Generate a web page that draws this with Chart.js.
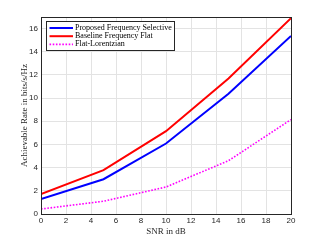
<!DOCTYPE html>
<html><head><meta charset="utf-8">
<script src="https://cdn.jsdelivr.net/npm/chart.js@4/dist/chart.umd.min.js"></script>
<style>html,body{margin:0;padding:0;background:#fff}#w{width:321px;height:241px}</style>
</head><body><div id="w"><canvas id="c"></canvas></div>
<script>
const snr = [0, 5, 10, 15, 20];
const proposed = [1.3, 3.0, 6.08, 10.37, 15.36];
const baseline = [1.73, 3.78, 7.15, 11.7, 16.9];
const lorentz = [0.43, 1.1, 2.33, 4.6, 8.15];
const seriesNames = ['Proposed Frequency Selective', 'Baseline Frequency Flat', 'Flat-Lorentzian'];

const toXY = v => snr.map((x, i) => ({x, y: v[i]}));

const boxLegend = {
  id: 'boxLegend',
  afterDraw(chart) {
    const {ctx, chartArea: a} = chart;
    ctx.save();
    ctx.strokeStyle = '#262626'; ctx.lineWidth = 1;
    ctx.strokeRect(Math.round(a.left) + 0.5, Math.round(a.top) + 0.5, Math.round(a.right - a.left), Math.round(a.bottom - a.top));
    const x0 = Math.round(a.left + 5), y0 = Math.round(a.top + 4), w = 128, h = 29;
    ctx.fillStyle = '#fff';
    ctx.fillRect(x0, y0, w, h);
    ctx.strokeStyle = '#262626';
    ctx.strokeRect(x0 + 0.5, y0 + 0.5, w, h);
    ctx.font = '8px "Liberation Serif"';
    ctx.textBaseline = 'middle';
    chart.data.datasets.forEach((ds, i) => {
      const yy = y0 + 7 + i * 8.2;
      ctx.beginPath();
      ctx.strokeStyle = ds.borderColor; ctx.lineWidth = ds.borderWidth;
      ctx.setLineDash(ds.borderDash || []);
      ctx.moveTo(x0 + 3.5, yy); ctx.lineTo(x0 + 27, yy); ctx.stroke();
      ctx.setLineDash([]);
      ctx.fillStyle = '#000';
      ctx.fillText(ds.label, x0 + 29, yy);
    });
    ctx.restore();
  }
};

new Chart(document.getElementById('c'), {
  type: 'line',
  data: {
    datasets: [
      {label: seriesNames[0], data: toXY(proposed), borderColor: '#0000ff', borderWidth: 2, pointRadius: 0, fill: false},
      {label: seriesNames[1], data: toXY(baseline), borderColor: '#ff0000', borderWidth: 2, pointRadius: 0, fill: false},
      {label: seriesNames[2], data: toXY(lorentz), borderColor: '#ff00ff', borderWidth: 1.6, borderDash: [1.6, 1.6], pointRadius: 0, fill: false}
    ]
  },
  options: {
    animation: false, responsive: true, maintainAspectRatio: false,
    layout: {padding: {left: 19, top: 17, right: 30, bottom: 4}},
    plugins: {legend: {display: false}, tooltip: {enabled: false}},
    scales: {
      x: {
        type: 'linear', min: 0, max: 20,
        ticks: {stepSize: 2, color: '#262626', font: {family: '"Liberation Sans"', size: 8}, padding: 2, maxRotation: 0},
        grid: {color: '#e3e3e3', tickLength: 0},
        border: {display: false},
        title: {display: true, text: 'SNR in dB', color: '#262626', font: {family: '"Liberation Serif"', size: 9}, padding: {top: 1, bottom: 0}},
        afterFit(s) { s.height = 23; }
      },
      y: {
        min: 0, max: 17,
        afterBuildTicks(s) { s.ticks = s.ticks.filter(t => t.value <= 16); },
        ticks: {stepSize: 2, color: '#262626', font: {family: '"Liberation Sans"', size: 8}, padding: 3},
        grid: {color: '#e3e3e3', tickLength: 0},
        border: {display: false},
        title: {display: true, text: 'Achievable Rate in bits/s/Hz', color: '#262626', font: {family: '"Liberation Serif"', size: 9}, padding: {top: 0, bottom: 2}},
        afterFit(s) { s.width = 22; }
      }
    }
  },
  plugins: [boxLegend]
});
</script>
</body></html>
